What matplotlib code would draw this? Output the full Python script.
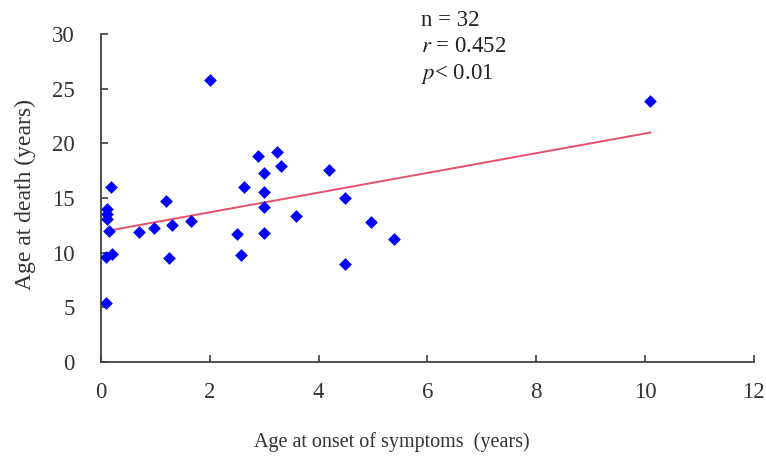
import numpy as np
import matplotlib
matplotlib.use("Agg")
import matplotlib.pyplot as plt

plt.rcParams['font.family'] = ['Liberation Serif', 'DejaVu Serif']
plt.rcParams['mathtext.fontset'] = 'stix'

# age at onset of symptoms (years) vs age at death (years)
onset = [0.09, 0.09, 0.20, 0.15, 0.11, 0.11, 0.11, 0.19,
         0.69, 0.98, 1.19, 1.24, 1.30, 1.65, 2.01,
         2.50, 2.58, 2.63, 2.88, 3.00, 3.00, 3.00, 3.00,
         3.23, 3.31, 3.58, 4.19, 4.48, 4.48, 4.97, 5.39, 10.10]
death = [5.4, 9.6, 9.9, 12.0, 13.05, 13.5, 14.0, 16.0,
         11.9, 12.3, 14.7, 9.5, 12.5, 12.9, 25.8,
         11.7, 9.8, 16.0, 18.8, 17.3, 15.55, 14.2, 11.8,
         19.2, 17.9, 13.4, 17.6, 15.0, 9.0, 12.8, 11.25, 23.9]

# regression line
fit_intercept = 11.9
fit_slope = 0.9

stats_lines = ["n = 32", r"$r$ = 0.452", r"$p$< 0.01"]

fig = plt.figure(figsize=(7.66, 4.59), dpi=100)
ax = fig.add_axes([0.132, 0.211, 0.852, 0.715])

ax.scatter(onset, death, marker='D', s=42, color='#0000ff', zorder=3, linewidths=0)

xs = np.array([min(onset), max(onset)])
ax.plot(xs, fit_intercept + fit_slope * xs, color='#e8506a', lw=1.4, zorder=2)

ax.set_xlim(0, 12)
ax.set_ylim(0, 30)
ax.set_xticks(range(0, 13, 2))
ax.set_yticks(range(0, 31, 5))

for s in ['top', 'right']:
    ax.spines[s].set_visible(False)
for s in ['left', 'bottom']:
    ax.spines[s].set_color('#404040')
    ax.spines[s].set_linewidth(1.3)
ax.tick_params(direction='in', length=5, width=1.2, color='#404040',
               labelsize=16.5, labelcolor='#333333')
ax.tick_params(axis='x', pad=14)
ax.tick_params(axis='y', pad=19)

ax.set_xlabel("Age at onset of symptoms  (years)", fontsize=14.5, color='#333333')
ax.xaxis.set_label_coords(0.445, -0.213)
ax.set_ylabel("Age at death (years)", fontsize=17, color='#333333')
ax.yaxis.set_label_coords(-0.1, 0.51)

for i, t in enumerate(stats_lines):
    fig.text(421 / 766, 1 - (20 + 27 * i) / 459, t, fontsize=16.5,
             color='#222222', va='center', ha='left')

fig.savefig("out.png", dpi=100)
